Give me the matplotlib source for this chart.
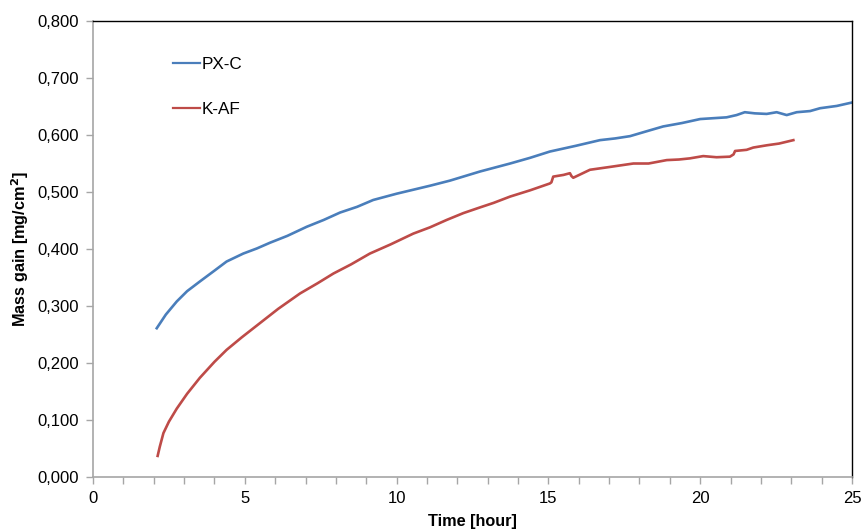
import matplotlib
matplotlib.use("Agg")
import matplotlib.pyplot as plt
from matplotlib.ticker import FuncFormatter, MultipleLocator

# PX-C series (time in hours, mass gain in mg/cm2)
pxc_time = [2.1, 2.4, 2.76, 3.1, 3.52, 4.0, 4.4, 4.95, 5.4, 5.83, 6.4, 7.04,
            7.6, 8.14, 8.7, 9.23, 10.0, 11.1, 11.76, 12.75, 13.74, 14.4,
            15.05, 15.9, 16.7, 17.2, 17.69, 18.2, 18.78, 19.4, 20.0, 20.87,
            21.2, 21.47, 21.8, 22.19, 22.52, 22.85, 23.18, 23.62, 23.95,
            24.5, 25.0]
pxc_mass = [0.261, 0.285, 0.308, 0.326, 0.343, 0.362, 0.378, 0.392, 0.401,
            0.411, 0.423, 0.439, 0.451, 0.464, 0.474, 0.486, 0.497, 0.511,
            0.520, 0.536, 0.550, 0.560, 0.571, 0.581, 0.591, 0.594, 0.598,
            0.606, 0.615, 0.621, 0.628, 0.631, 0.635, 0.640, 0.638, 0.637,
            0.640, 0.635, 0.640, 0.642, 0.647, 0.651, 0.657]

# K-AF series
kaf_time = [2.13, 2.2, 2.32, 2.5, 2.76, 3.1, 3.52, 4.0, 4.4, 4.9, 5.5, 6.1,
            6.82, 7.4, 7.92, 8.5, 9.12, 9.8, 10.55, 11.1, 11.65, 12.2, 12.75,
            13.2, 13.74, 14.4, 15.05, 15.1, 15.16, 15.5, 15.71, 15.76, 15.82,
            16.37, 17.03, 17.8, 18.3, 18.9, 19.3, 19.66, 20.1, 20.54, 20.98,
            21.1, 21.15, 21.53, 21.75, 22.2, 22.6, 23.07]
kaf_mass = [0.037, 0.053, 0.077, 0.097, 0.120, 0.146, 0.174, 0.202, 0.223,
            0.245, 0.270, 0.295, 0.322, 0.340, 0.357, 0.373, 0.392, 0.408,
            0.427, 0.438, 0.451, 0.463, 0.473, 0.481, 0.492, 0.503, 0.515,
            0.517, 0.527, 0.530, 0.533, 0.528, 0.525, 0.539, 0.544, 0.550,
            0.550, 0.556, 0.557, 0.559, 0.563, 0.561, 0.562, 0.566, 0.572,
            0.574, 0.578, 0.582, 0.585, 0.591]

plt.rcParams["font.family"] = ["Liberation Sans", "DejaVu Sans"]

fig = plt.figure(figsize=(8.61, 5.32), dpi=100)
ax = fig.add_axes([0.108, 0.1034, 0.8815, 0.8571])

ax.plot(pxc_time, pxc_mass, color="#4A7EBB", linewidth=1.9, label="PX-C")
ax.plot(kaf_time, kaf_mass, color="#BE4B48", linewidth=1.9, label="K-AF")

ax.set_xlim(0, 25)
ax.set_ylim(0, 0.8)
ax.xaxis.set_major_locator(MultipleLocator(5))
ax.xaxis.set_minor_locator(MultipleLocator(1))
ax.yaxis.set_major_locator(MultipleLocator(0.1))
ax.yaxis.set_major_formatter(FuncFormatter(lambda v, p: f"{v:.3f}".replace(".", ",")))

for side in ("left", "bottom"):
    ax.spines[side].set_color("#A6A6A6")
    ax.spines[side].set_linewidth(1.2)
for side in ("top", "right"):
    ax.spines[side].set_color("#000000")
    ax.spines[side].set_linewidth(1.0)

ax.tick_params(which="both", direction="out", color="#A6A6A6", width=1,
               labelsize=12, labelcolor="#000000", length=5)
ax.tick_params(axis="x", pad=5)
ax.tick_params(axis="y", pad=5)

ax.set_xlabel("Time [hour]", fontsize=11.7, fontweight="bold", labelpad=6)
ax.set_ylabel("Mass gain [mg/cm$\\mathbf{^2}$]", fontsize=11.7,
              fontweight="bold", labelpad=5)

leg = ax.legend(loc="upper left", bbox_to_anchor=(0.106, 0.9205), frameon=False,
                fontsize=12.3, handlelength=1.55, handletextpad=0.1,
                labelspacing=1.75, borderpad=0, borderaxespad=0)
for h in leg.get_lines():
    h.set_linewidth(1.6)

fig.savefig("out.png", dpi=100)
